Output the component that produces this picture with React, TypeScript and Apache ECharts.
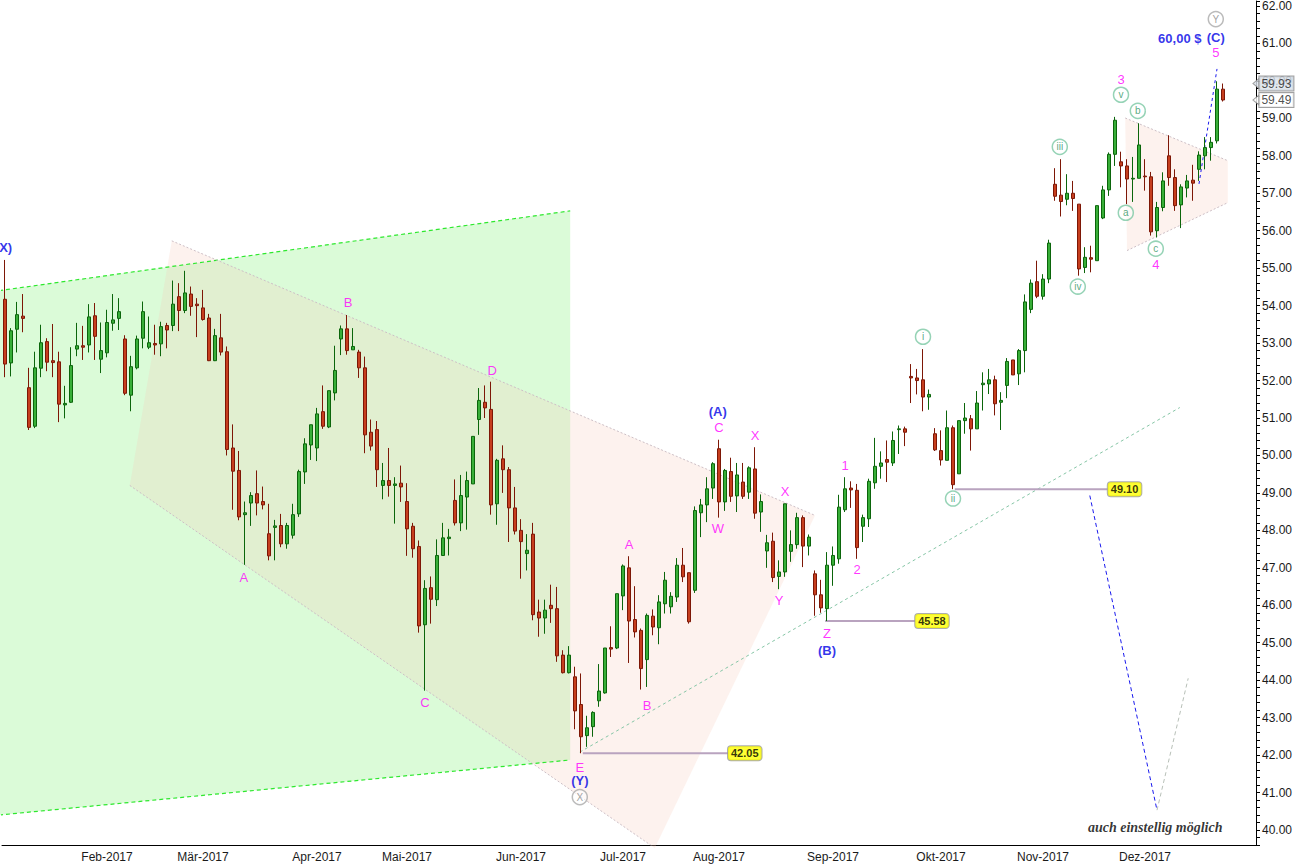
import React, { useEffect, useRef } from "react";
import * as echarts from "echarts";

// Each candle: [open, high, low, close]
const candlesA: number[][] = [
  [54.17, 55.22, 52.09, 52.44], [52.47, 53.4, 52.11, 53.33], [53.37, 54.1, 52.75, 53.76], [53.72, 54.31, 53.29, 53.66],
  [51.81, 52.34, 50.68, 50.75], [50.78, 52.77, 50.73, 52.34], [52.33, 53.49, 52.09, 53.01], [53.04, 53.13, 52.25, 52.49],
  [52.53, 53.51, 52.09, 52.48], [52.5, 52.77, 50.89, 51.37], [51.35, 51.86, 50.99, 51.39], [51.42, 52.89, 51.4, 52.4],
  [52.84, 53.54, 52.65, 52.93], [52.93, 53.46, 52.55, 52.89], [52.95, 54.04, 52.75, 53.7], [53.73, 54.07, 52.55, 53.18],
  [52.57, 53.55, 52.2, 52.8], [52.74, 53.89, 52.62, 53.55], [53.53, 54.31, 53.33, 53.62], [53.66, 54.2, 53.35, 53.84],
  [53.11, 53.21, 51.61, 51.66], [51.61, 52.66, 51.18, 52.37], [52.34, 53.2, 52.3, 53.11], [53.13, 54.11, 52.86, 53.84],
  [52.89, 53.71, 52.84, 53.01], [52.99, 53.49, 52.69, 52.95], [52.98, 53.57, 52.65, 53.44], [53.47, 53.54, 52.86, 53.35],
  [53.47, 54.67, 53.32, 54.04], [54.24, 54.6, 53.32, 53.87], [53.87, 54.93, 53.8, 54.34], [54.31, 54.51, 53.73, 53.98],
  [54.04, 54.2, 53.16, 54.0], [53.94, 54.42, 53.6, 53.63], [53.67, 53.78, 52.52, 52.53], [52.53, 53.38, 52.52, 53.2],
];
const candlesB: number[][] = [
  [53.14, 53.78, 52.67, 52.76], [52.77, 52.91, 50.0, 50.16], [50.2, 50.83, 48.55, 49.58], [49.6, 50.12, 48.27, 48.36],
  [48.42, 48.77, 47.08, 48.47], [48.73, 49.02, 48.12, 48.93], [48.98, 49.6, 48.4, 48.73], [48.77, 49.17, 48.56, 48.68],
  [47.91, 48.71, 47.2, 47.32], [48.08, 48.28, 47.2, 48.12], [48.13, 48.44, 47.55, 47.64], [47.64, 48.2, 47.51, 48.13],
  [47.87, 48.71, 47.78, 48.42], [48.44, 49.62, 48.36, 49.57], [49.56, 50.46, 49.24, 50.31], [50.28, 50.82, 49.88, 50.82],
  [50.2, 51.27, 49.85, 51.11], [51.17, 51.87, 50.71, 50.78], [50.76, 51.73, 50.73, 51.73], [51.67, 52.93, 51.47, 52.27],
  [53.11, 53.47, 52.68, 53.38], [53.38, 53.75, 52.69, 52.8], [52.82, 53.4, 52.82, 52.91], [52.76, 52.82, 52.07, 52.34],
  [52.34, 52.64, 50.06, 50.55], [50.62, 50.96, 50.13, 50.25], [50.69, 50.92, 49.16, 49.62], [49.2, 49.8, 48.83, 49.33],
  [49.33, 50.2, 48.9, 49.2], [49.2, 49.42, 48.18, 49.24], [49.26, 49.73, 48.76, 49.16],
];
const candlesC: number[][] = [
  [48.77, 49.26, 47.32, 48.04], [48.11, 48.2, 47.27, 47.51], [47.57, 47.73, 45.27, 45.45], [45.48, 46.67, 43.72, 46.45],
  [46.47, 46.77, 45.51, 46.16], [46.15, 47.76, 45.98, 47.33], [47.33, 48.2, 47.32, 47.8], [47.78, 48.04, 47.33, 47.82],
  [48.8, 49.36, 48.13, 48.2], [48.2, 49.48, 47.98, 48.93], [48.89, 49.57, 48.02, 49.33], [49.24, 50.51, 49.24, 50.51],
  [50.96, 51.8, 50.55, 51.47], [51.42, 51.87, 51.0, 51.27], [51.23, 51.97, 48.42, 48.68], [48.71, 49.91, 48.15, 49.87],
  [49.91, 50.27, 49.0, 49.62], [49.62, 49.69, 47.69, 48.6], [48.6, 49.16, 47.89, 47.98],
];
const candlesD: number[][] = [
  [48.0, 48.3, 46.71, 47.7], [47.38, 47.9, 46.93, 47.47], [47.9, 48.2, 45.6, 45.75], [45.82, 46.15, 45.16, 45.66],
  [45.66, 46.15, 45.24, 45.87], [46.0, 46.55, 45.53, 45.91], [45.91, 46.49, 44.49, 44.65], [44.67, 44.8, 44.18, 44.2],
  [44.2, 44.91, 44.18, 44.67], [44.09, 44.36, 42.69, 43.18], [43.35, 44.18, 42.05, 42.49], [42.52, 43.05, 42.22, 42.73],
  [42.76, 43.17, 42.49, 43.14], [43.45, 44.43, 43.29, 43.71], [43.66, 44.86, 43.64, 44.86], [44.87, 45.44, 44.62, 44.83],
  [44.86, 46.31, 44.83, 46.31], [46.25, 47.09, 45.87, 47.05], [47.0, 47.31, 44.46, 45.58], [45.62, 46.51, 45.14, 45.29],
  [45.33, 45.38, 43.75, 44.31], [44.55, 45.78, 43.82, 45.73], [45.71, 45.89, 45.2, 45.42], [45.4, 46.27, 44.96, 46.09],
  [46.04, 46.89, 45.78, 46.67], [45.96, 46.35, 45.78, 46.24], [46.22, 47.26, 46.09, 47.07], [47.07, 47.53, 46.62, 46.76],
  [46.87, 46.87, 45.51, 45.56], [46.4, 48.64, 46.33, 48.53], [48.47, 48.84, 47.82, 48.68], [48.68, 49.42, 48.22, 49.11],
  [49.13, 49.82, 48.84, 49.78],
];
const candlesE: number[][] = [
  [50.18, 50.42, 48.34, 48.76], [48.76, 49.64, 48.52, 49.6], [49.57, 49.94, 48.76, 48.91], [48.92, 49.8, 48.49, 49.48],
  [49.29, 49.8, 48.84, 48.91], [49.02, 49.71, 48.84, 49.67], [49.64, 50.22, 48.31, 48.46], [48.49, 48.96, 47.96, 48.77],
  [47.45, 47.88, 47.0, 47.67], [47.71, 47.94, 46.62, 46.74], [46.77, 47.2, 46.43, 46.89], [46.89, 48.71, 46.76, 48.71],
  [47.44, 48.0, 47.16, 47.62], [47.62, 48.47, 47.51, 48.34], [48.34, 48.4, 47.02, 47.58], [47.58, 47.89, 47.33, 47.82],
  [46.84, 46.93, 45.72, 46.28], [46.28, 46.68, 45.8, 45.93], [45.91, 47.42, 45.58, 47.07], [47.07, 47.57, 46.52, 47.33],
  [47.24, 48.95, 47.11, 48.62], [48.55, 49.42, 48.49, 49.11], [49.13, 49.31, 48.6, 49.08], [49.07, 49.24, 47.24, 47.54],
  [48.11, 48.42, 47.69, 48.34], [48.31, 49.38, 48.09, 49.31], [49.27, 50.47, 49.11, 49.71], [49.71, 50.11, 49.38, 49.8],
  [49.89, 50.4, 49.29, 49.82], [49.8, 50.64, 49.72, 50.4], [50.69, 50.8, 50.04, 50.71], [50.71, 50.77, 50.25, 50.62],
];
const candlesF: number[][] = [
  [52.11, 52.44, 51.4, 52.07], [52.07, 52.31, 51.63, 52.0], [52.02, 52.84, 51.18, 51.56], [51.56, 51.76, 51.22, 51.63],
  [50.58, 50.73, 50.12, 50.15], [50.13, 50.67, 49.73, 49.88], [49.87, 51.2, 49.87, 50.74], [50.74, 50.8, 49.1, 49.22],
  [49.51, 50.93, 49.51, 50.93], [50.93, 51.4, 50.58, 51.0], [50.98, 51.08, 50.13, 50.71], [50.71, 51.72, 50.71, 51.4],
  [51.89, 52.22, 51.2, 51.93], [51.91, 52.31, 51.64, 52.02], [52.02, 52.13, 51.07, 51.38], [51.42, 51.69, 50.68, 51.47],
  [51.87, 52.6, 51.53, 52.51], [52.55, 52.55, 52.15, 52.15], [52.18, 52.84, 51.88, 52.8], [52.8, 54.3, 52.22, 54.1],
  [53.9, 54.7, 53.8, 54.6], [54.64, 55.2, 54.2, 54.25], [54.25, 54.84, 54.16, 54.71], [54.71, 55.76, 54.6, 55.67],
];
const candlesG: number[][] = [
  [57.24, 57.67, 56.8, 56.92], [56.95, 57.91, 56.38, 56.78], [56.84, 57.51, 56.68, 57.0], [57.0, 57.33, 56.53, 56.86],
  [56.71, 56.71, 54.8, 54.98], [55.02, 55.56, 54.87, 55.29], [55.28, 55.6, 54.89, 55.24], [55.2, 56.67, 55.2, 56.67],
  [56.34, 57.2, 56.31, 57.09], [57.09, 58.09, 56.93, 58.04], [58.04, 59.04, 57.73, 58.95], [57.84, 58.11, 57.16, 57.73],
  [57.73, 57.91, 56.71, 57.38], [57.38, 57.97, 56.77, 57.4], [57.4, 58.87, 57.4, 58.29], [57.46, 57.91, 57.07, 57.44],
  [57.44, 57.57, 55.87, 55.97], [56.0, 56.77, 55.82, 56.62], [56.62, 57.56, 56.52, 57.33], [58.0, 58.55, 57.2, 57.42],
  [57.42, 57.64, 56.53, 56.67], [56.69, 57.24, 56.07, 57.17], [57.14, 57.49, 56.89, 57.33], [57.35, 57.76, 56.8, 57.27],
  [57.64, 58.12, 57.33, 58.02], [58.0, 58.5, 57.64, 58.22], [58.22, 58.5, 57.87, 58.36], [58.4, 59.99, 58.33, 59.78],
  [59.78, 59.93, 59.45, 59.49],
];

const monthTicks: [number, string][] = [
  [17, "Feb-2017"], [33, "Mär-2017"], [52, "Apr-2017"], [67, "Mai-2017"], [86, "Jun-2017"], [103, "Jul-2017"],
  [119, "Aug-2017"], [138, "Sep-2017"], [156, "Okt-2017"], [173, "Nov-2017"], [190, "Dez-2017"], [206, ""],
];
const SLOTS = 209;

// Annotations in (candle index, price)
const greenChannel: number[][] = [[-1, 54.4], [94.2, 56.53], [94.2, 41.87], [-1, 40.4]];
const pinkTriangle: number[][] = [[27.8, 55.73], [135, 48.4], [108.3, 39.52], [20.8, 49.2]];
const smallTriangle: number[][] = [[186.7, 59.01], [203.8, 57.87], [203.8, 56.75], [187, 55.47]];

const magentaLabels: [number, number, string][] = [
  [39.8, 46.75, "A"], [57.2, 54.08, "B"], [70, 43.41, "C"], [81.2, 52.27, "D"], [95.8, 41.68, "E"],
  [104, 47.63, "A"], [107, 43.33, "B"], [119, 50.75, "C"], [118.8, 48.05, "W"], [125, 50.53, "X"],
  [130, 49.04, "X"], [129, 46.13, "Y"], [137, 45.25, "Z"], [140, 49.73, "1"], [142, 46.96, "2"],
  [186, 60.03, "3"], [191.8, 55.09, "4"], [201.8, 60.75, "5"],
];
const blueLabels: [number, number, string][] = [
  [-0.25, 55.55, "(X)"], [95.8, 41.31, "(Y)"], [118.8, 51.17, "(A)"], [137, 44.8, "(B)"], [201.8, 61.17, "(C)"],
  [195.8, 61.12, "60,00 $"],
];
const circledGreen: [number, number, string][] = [
  [153, 53.17, "i"], [158, 48.85, "ii"], [175.8, 58.24, "iii"], [178.8, 54.51, "iv"], [186, 59.63, "v"],
  [186.8, 56.48, "a"], [188.8, 59.2, "b"], [191.8, 55.52, "c"],
];
const circledGray: [number, number, string][] = [[95.8, 40.88, "X"], [201.8, 61.65, "Y"]];

const levels: [number, number, number][] = [[96.3, 120.5, 42.05], [136.7, 151.7, 45.58], [158.3, 183.8, 49.1]];

const FONT = "Liberation Sans, Arial, sans-serif";

export default function App() {
  const ref = useRef<HTMLDivElement>(null);
  useEffect(() => {
    document.body.style.margin = "0";
    const chart = echarts.init(ref.current!, undefined, { renderer: "svg" });
    const ohlc = [...candlesA, ...candlesB, ...candlesC, ...candlesD, ...candlesE, ...candlesF, ...candlesG];
    const data = ohlc.map(([o, h, l, c]) => [o, c, l, h]);
    const tickMap = new Map(monthTicks.map(([i, s]) => [i, s]));
    const categories = Array.from({ length: SLOTS }, (_, i) => (tickMap.has(i) ? tickMap.get(i)! : String(i)));
    const showTick = (i: number) => tickMap.has(i);

    const polys = [
      { pts: greenChannel, fill: "#dbfbd8" },
      { pts: pinkTriangle, fill: "rgba(246,200,186,0.24)" },
      { pts: smallTriangle, fill: "rgba(246,200,186,0.24)" },
    ];

    const seg = (a: number[], b: number[], color: string, type: any, width = 1) => ({
      type: "line",
      xAxisIndex: 1,
      yAxisIndex: 0,
      data: [a, b],
      symbol: "none",
      silent: true,
      lineStyle: { color, type, width },
      z: 3,
    });

    const labelSeries = (items: [number, number, string][], label: any, extra: any = {}) => ({
      type: "scatter",
      xAxisIndex: 1,
      yAxisIndex: 0,
      clip: false,
      silent: true,
      symbolSize: 0,
      data: items.map(([x, y, t]) => ({ value: [x, y], name: t })),
      label: { show: true, position: "inside", formatter: "{b}", ...label },
      z: 10,
      ...extra,
    });

    const flag = (v: number, bg: string) =>
      labelSeries(
        [[SLOTS - 0.5, v, v.toFixed(2)]],
        {
          position: "right",
          distance: 0,
          backgroundColor: bg,
          borderColor: "#8a8a8a",
          borderWidth: 1,
          padding: [1, 2, 0, 2],
          lineHeight: 13,
          color: "#222",
          fontSize: 12,
          fontFamily: FONT,
        },
        { symbol: "triangle", symbolSize: [10, 6], symbolRotate: 90, itemStyle: { color: bg, borderColor: "#8a8a8a", borderWidth: 1 } }
      );

    const option: any = {
      animation: false,
      backgroundColor: "#ffffff",
      grid: { left: 2, right: 44, top: 0, bottom: 23 },
      xAxis: [
        {
          type: "category",
          data: categories,
          boundaryGap: true,
          axisLine: { onZero: false, lineStyle: { color: "#000", width: 1 } },
          axisTick: { alignWithLabel: true, interval: (i: number) => showTick(i), length: 5, lineStyle: { color: "#000" } },
          axisLabel: {
            interval: (i: number) => showTick(i),
            formatter: (v: string) => (/^\d+$/.test(v) ? "" : v),
            color: "#1a1a1a",
            fontSize: 12,
            fontFamily: FONT,
            margin: 6,
          },
          splitLine: { show: false },
        },
        { type: "value", min: -0.5, max: SLOTS - 0.5, show: false },
      ],
      yAxis: {
        type: "value",
        position: "right",
        min: 39.6,
        max: 62.1333,
        interval: 0.2,
        axisLine: { show: true, onZero: false, lineStyle: { color: "#000" } },
        axisTick: { show: true, length: 4, lineStyle: { color: "#000" } },
        axisLabel: {
          formatter: (v: number) => (Math.abs(v - Math.round(v)) < 1e-6 ? Math.round(v).toFixed(2) : ""),
          color: "#1a1a1a",
          fontSize: 12,
          fontFamily: FONT,
          margin: 6,
        },
        splitLine: { show: false },
      },
      series: [
        {
          type: "custom",
          xAxisIndex: 1,
          yAxisIndex: 0,
          silent: true,
          z: 1,
          data: polys.map((_, i) => [50, 50, i]),
          renderItem: (params: any, api: any) => {
            const p = polys[params.dataIndex];
            return {
              type: "polygon",
              shape: { points: p.pts.map((pt) => api.coord(pt)) },
              style: { fill: p.fill, stroke: "none" },
            };
          },
        },
        seg(greenChannel[0], greenChannel[1], "#2ee82e", [4, 3], 1.2),
        seg(greenChannel[3], greenChannel[2], "#2ee82e", [4, 3], 1.2),
        seg(pinkTriangle[0], pinkTriangle[1], "#cdbfc6", [2, 2]),
        seg(pinkTriangle[3], pinkTriangle[2], "#cdbfc6", [2, 2]),
        seg(smallTriangle[0], smallTriangle[1], "#cdbfc6", [2, 2]),
        seg(smallTriangle[3], smallTriangle[2], "#cdbfc6", [2, 2]),
        seg([95.8, 42.08], [195.8, 51.28], "#86c6a6", [3, 3]),
        seg([180.8, 48.93], [192, 40.53], "#1a1aee", [4, 3]),
        seg([192, 40.53], [197.2, 44.05], "#b8c0b8", [4, 3]),
        seg([199, 57.25], [202, 60.32], "#1a1aee", [3, 3]),
        ...levels.map(([a, b, v]) => seg([a, v], [b, v], "#b9a3bf", "solid", 2)),
        {
          type: "candlestick",
          xAxisIndex: 0,
          yAxisIndex: 0,
          data,
          barWidth: 4,
          z: 5,
          itemStyle: {
            color: "#38ae38",
            color0: "#c63e1e",
            borderColor: "#0b650b",
            borderColor0: "#7d1706",
            borderWidth: 1,
          },
        },
        labelSeries(
          levels.map(([, b, v]) => [b, v, v.toFixed(2)] as [number, number, string]),
          {
            position: "right",
            distance: 0,
            backgroundColor: "#ffff00",
            borderColor: "#999",
            borderWidth: 1,
            borderRadius: 3,
            padding: [2, 3, 1, 3],
            fontWeight: "bold",
            fontSize: 11,
            color: "#000",
            fontFamily: FONT,
          }
        ),
        labelSeries(magentaLabels, { color: "#ff00ff", fontSize: 13, fontFamily: FONT }),
        labelSeries(blueLabels, { color: "#0000e6", fontSize: 13, fontWeight: "bold", fontFamily: FONT }),
        labelSeries(
          circledGreen,
          { color: "#2f9460", fontSize: 10, fontFamily: FONT },
          {
            symbol: "circle",
            symbolSize: 15,
            itemStyle: { color: "rgba(255,255,255,0.55)", borderColor: "#7cc8a4", borderWidth: 1.5 },
          }
        ),
        labelSeries(
          circledGray,
          { color: "#888", fontSize: 10, fontFamily: FONT },
          {
            symbol: "circle",
            symbolSize: 15,
            itemStyle: { color: "rgba(255,255,255,0.7)", borderColor: "#aaa", borderWidth: 1.5 },
          }
        ),
        labelSeries([[191.7, 40.08, "auch einstellig möglich"]], {
          color: "#000",
          fontSize: 14,
          fontStyle: "italic",
          fontWeight: "bold",
          fontFamily: "Liberation Serif, DejaVu Serif, serif",
        }),
        flag(59.93, "#d9e1ea"),
        flag(59.49, "#ffffff"),
      ],
    };
    chart.setOption(option);
    return () => chart.dispose();
  }, []);
  return <div ref={ref} style={{ width: 1300, height: 868 }} />;
}
